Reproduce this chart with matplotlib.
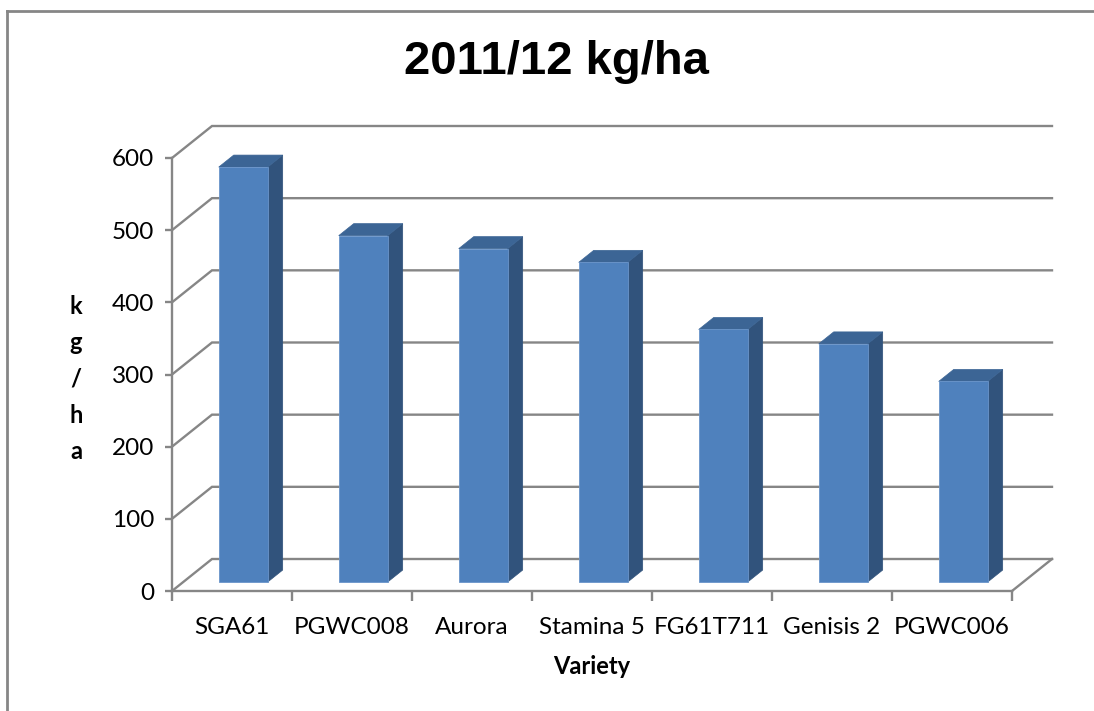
import matplotlib
matplotlib.use("Agg")
import matplotlib.pyplot as plt
from matplotlib.patches import Polygon
from matplotlib.lines import Line2D

categories = ["SGA61", "PGWC008", "Aurora", "Stamina 5", "FG61T711", "Genisis 2", "PGWC006"]
values = [575, 480, 462, 443, 350, 330, 278]
y_ticks = [0, 100, 200, 300, 400, 500, 600]

W, H = 1094, 711
fig = plt.figure(figsize=(W / 100, H / 100), dpi=100)
fig.patch.set_facecolor("white")

# axes placement in pixels
x_left, x_right = 172, 1052
y_bot, y_top = 591, 126
ax = fig.add_axes([x_left / W, 1 - y_bot / H, (x_right - x_left) / W, (y_bot - y_top) / H])

n = len(categories)
ddx = 40 / 120.0          # depth offset in category units
ymax_front = 600
ppu = 433.0 / 600          # pixels per value unit
ddy = 32 / ppu             # depth offset in value units
ax.set_xlim(0, n + ddx)
ax.set_ylim(0, ymax_front + ddy)
ax.set_facecolor("none")

grid_c = "#868686"
glw = 1.7

# gridlines: left wall diagonal + back wall horizontal
for v in y_ticks:
    ax.plot([0, ddx, n + ddx], [v, v + ddy, v + ddy], color=grid_c, lw=glw, zorder=1,
            solid_joinstyle="miter", clip_on=False)
# floor right edge
ax.plot([n, n + ddx], [0, ddy], color=grid_c, lw=glw, zorder=1, clip_on=False)

# bars
front_c = "#4F81BD"
side_c = "#31537C"
top_c = "#3C6595"
d0, d1 = 0.28, 0.655
hw = 0.204
for i, v in enumerate(values):
    cx = i + 0.5 + d0 * ddx
    x0, x1 = cx - hw, cx + hw
    yb = d0 * ddy
    yt = v + d0 * ddy
    sx = (d1 - d0) * ddx
    sy = (d1 - d0) * ddy
    ax.add_patch(Polygon([(x1, yb), (x1 + sx, yb + sy), (x1 + sx, yt + sy), (x1, yt)],
                         closed=True, facecolor=side_c, edgecolor=side_c, lw=0.5, zorder=3))
    ax.add_patch(Polygon([(x0, yt), (x1, yt), (x1 + sx, yt + sy), (x0 + sx, yt + sy)],
                         closed=True, facecolor=top_c, edgecolor=top_c, lw=0.5, zorder=3))
    ax.add_patch(Polygon([(x0, yb), (x1, yb), (x1, yt), (x0, yt)],
                         closed=True, facecolor=front_c, edgecolor="#6A95CA", lw=0.6, zorder=4))

# spines
for s in ["top", "right"]:
    ax.spines[s].set_visible(False)
ax.spines["left"].set_bounds(0, ymax_front)
ax.spines["bottom"].set_bounds(0, n)
for s in ["left", "bottom"]:
    ax.spines[s].set_color(grid_c)
    ax.spines[s].set_linewidth(glw)
    ax.spines[s].set_zorder(2)

tick_font = "Lato"
ax.set_yticks(y_ticks)
ax.set_yticklabels([str(t) for t in y_ticks], fontsize=17.5, family=tick_font)
ax.tick_params(axis="y", direction="out", length=5, width=glw, color=grid_c, pad=8)

ax.set_xticks([i + 0.5 for i in range(n)])
ax.set_xticklabels(categories, fontsize=17.5, family=tick_font)
ax.set_xticks(list(range(n + 1)), minor=True)
ax.tick_params(axis="x", which="major", length=0, pad=19)
ax.tick_params(axis="x", which="minor", direction="out", length=7, width=glw, color=grid_c)

# title and axis labels
fig.text(556 / W, 1 - 62 / H, "2011/12 kg/ha", ha="center", va="center",
         fontsize=34, fontweight="bold", family="Liberation Sans")
fig.text(592 / W, 1 - 666 / H, "Variety", ha="center", va="center",
         fontsize=17, fontweight="bold", family=tick_font)
fig.text(76 / W, 1 - 379 / H, "k\ng\n/\nh\na", ha="center", va="center",
         fontsize=17, fontweight="bold", family=tick_font, linespacing=1.7)

# outer border
fig.add_artist(Line2D([7 / W, 1], [1 - 11 / H, 1 - 11 / H], transform=fig.transFigure,
                      color="#868686", lw=2))
fig.add_artist(Line2D([7 / W, 7 / W], [0, 1 - 11 / H], transform=fig.transFigure,
                      color="#868686", lw=2))

fig.savefig("out.png", dpi=100, facecolor="white")
